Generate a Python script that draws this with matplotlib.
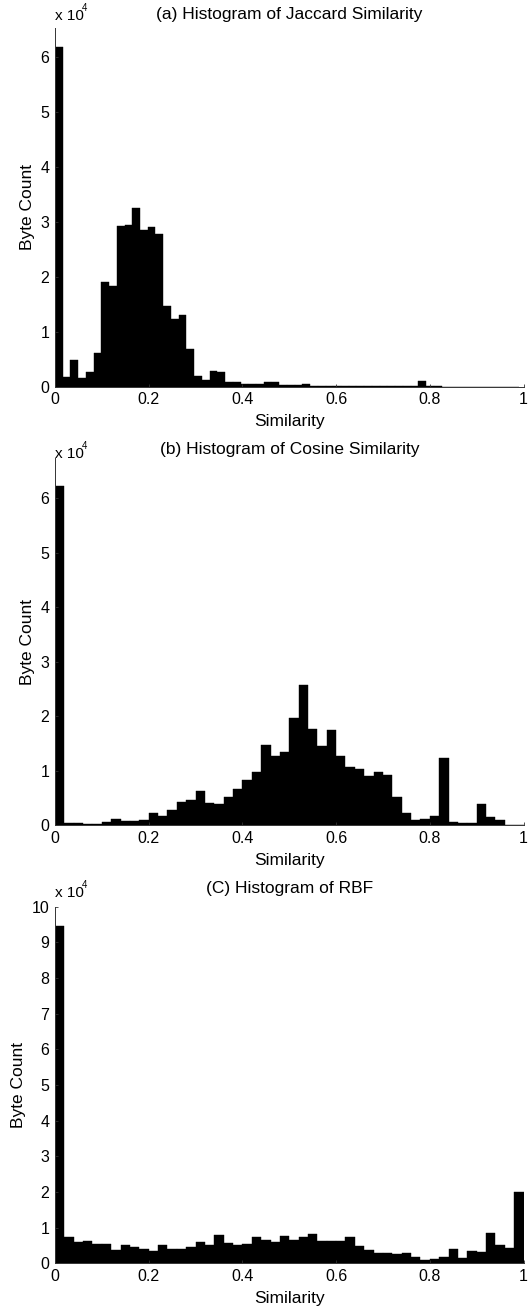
import numpy as np
import matplotlib
matplotlib.use('Agg')
import matplotlib.pyplot as plt
from matplotlib.ticker import FuncFormatter

plt.rcParams['font.family'] = ['Liberation Sans', 'DejaVu Sans']

# contagens por bin
jaccard_counts = [61800, 1800, 4800, 1600, 2700, 6100, 19000, 18300, 29200, 29400,
                  32600, 28500, 29000, 27800, 14700, 12300, 13000, 6800, 1900, 1300,
                  2800, 2600, 800, 800, 500, 500, 500, 800, 800, 400,
                  400, 400, 550, 200, 200, 150, 100, 100, 150, 150,
                  100, 100, 100, 50, 50, 50, 50, 1000, 100, 100,
                  0, 0, 0, 0, 0, 0, 0, 0, 0, 0]
jaccard_range = (0.0, 0.99)

cosine_counts = [62300, 400, 400, 200, 200, 550, 1100, 700, 700, 900,
                 2200, 1700, 2800, 4200, 4600, 6200, 4000, 3900, 5200, 6600,
                 8300, 9700, 14700, 12700, 13400, 19600, 25700, 17600, 14500, 17400,
                 12700, 10600, 10300, 9000, 9700, 9200, 5100, 2200, 900, 1100,
                 1650, 12300, 550, 400, 400, 3850, 1500, 900, 50, 50]
cosine_range = (0.0, 1.0)

rbf_counts = [94600, 7400, 6100, 6300, 5400, 5400, 3600, 5100, 4600, 4000,
              3500, 5100, 4000, 4000, 4600, 6000, 5100, 7900, 5700, 5100,
              5400, 7400, 6500, 6000, 7700, 6500, 7400, 8200, 6300, 6300,
              6300, 7400, 4900, 3700, 2900, 2900, 2600, 2900, 1800, 900,
              1200, 1800, 4000, 1500, 3500, 3200, 8500, 5100, 4300, 20000]
rbf_range = (0.0, 1.0)

titles = ['(a) Histogram of Jaccard Similarity',
          '(b) Histogram of Cosine Similarity',
          '(C) Histogram of RBF']
x_ticks = [0, 0.2, 0.4, 0.6, 0.8, 1]
y_tick_sets = [list(range(0, 7)), list(range(0, 7)), list(range(0, 11))]

W, H = 528, 1309
fig = plt.figure(figsize=(W / 100, H / 100), dpi=100)

# posicoes dos eixos em pixels: (esquerda, topo, direita, base)
boxes = [(55, 28.3, 523.5, 386.7), (55, 458.3, 523.5, 825), (55, 906.7, 523.5, 1263.3)]
ytops = [65200, 67300, 100000]
title_pads = [7, 3, 10]
mult_offsets = [4, -2, 5]   # deslocamento vertical do "x 10^4" (pontos)

series = [(jaccard_counts, jaccard_range), (cosine_counts, cosine_range), (rbf_counts, rbf_range)]

for i, ((counts, rng), box) in enumerate(zip(series, boxes)):
    l, t, r, b = box
    ax = fig.add_axes([l / W, (H - b) / H, (r - l) / W, (b - t) / H])
    edges = np.linspace(rng[0], rng[1], len(counts) + 1)
    ax.bar(edges[:-1], counts, width=np.diff(edges), align='edge',
           color='black', edgecolor='black', linewidth=0.3)
    ax.set_xlim(0, 1)
    ax.set_ylim(0, ytops[i])
    ax.set_xticks(x_ticks)
    ax.xaxis.set_major_formatter(FuncFormatter(lambda v, p: '%g' % v))
    ax.set_yticks([v * 1e4 for v in y_tick_sets[i]])
    ax.yaxis.set_major_formatter(FuncFormatter(lambda v, p: '%d' % round(v / 1e4)))
    for s in ['top', 'right']:
        ax.spines[s].set_visible(False)
    for s in ['left', 'bottom']:
        ax.spines[s].set_linewidth(0.7)
        ax.spines[s].set_color('#333333')
    ax.tick_params(direction='in', length=2.5, width=0.6, labelsize=11.5, pad=4,
                   colors='#333333', labelcolor='black')
    ax.set_xlabel('Similarity', fontsize=12.5, labelpad=5)
    ax.set_ylabel('Byte Count', fontsize=12.5, labelpad=4)
    ax.set_title(titles[i], fontsize=12.5, pad=title_pads[i])
    # multiplicador "x 10^4" no topo do eixo y
    ax.annotate('x 10', xy=(0, 1), xycoords='axes fraction',
                xytext=(0, mult_offsets[i]), textcoords='offset points',
                ha='left', va='bottom', fontsize=11)
    ax.annotate('4', xy=(0, 1), xycoords='axes fraction',
                xytext=(19.5, mult_offsets[i] + 7), textcoords='offset points',
                ha='left', va='bottom', fontsize=7)

fig.savefig('out.png', dpi=100)
